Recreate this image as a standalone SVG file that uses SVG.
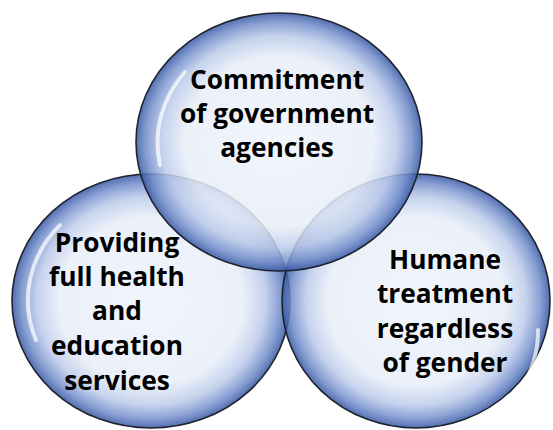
<svg xmlns="http://www.w3.org/2000/svg" width="553" height="430" viewBox="0 0 553 430">
  <defs>
    <radialGradient id="bub" cx="50%" cy="50%" r="50%">
      <stop offset="0" stop-color="#eff3fb"/>
      <stop offset="0.66" stop-color="#e8eef8"/>
      <stop offset="0.82" stop-color="#bccbea"/>
      <stop offset="0.93" stop-color="#738ecb"/>
      <stop offset="1" stop-color="#3656a2"/>
    </radialGradient>
  </defs>
  <style>
    .bubble { fill: url(#bub); fill-opacity: 0.85; stroke: #1e2330; stroke-width: 1.6; }
    .shine { fill: none; stroke: #ffffff; stroke-opacity: 0.7; stroke-width: 4; stroke-linecap: round; }
    .label { font-family: "Open Sans", Lato, "Liberation Sans", sans-serif; font-weight: bold; font-size: 26.3px; fill: #000000; text-anchor: middle; }
  </style>
  <rect width="553" height="430" fill="#ffffff"/>
  <g id="node-left">
    <ellipse class="bubble" cx="151" cy="301" rx="139" ry="127"/>
    <path class="shine" d="M 36 340 A 124 112 0 0 1 60 225"/>
  </g>
  <g id="node-right">
    <ellipse class="bubble" cx="416" cy="301" rx="134" ry="127"/>
    <path class="shine" d="M 538 330 A 120 112 0 0 1 520 390"/>
  </g>
  <g id="node-top">
    <ellipse class="bubble" cx="279" cy="142" rx="143" ry="129"/>
    <path class="shine" d="M 160 165 A 128 114 0 0 1 185 72"/>
  </g>
  <g id="labels">
    <text class="label" x="277" y="89">Commitment</text>
    <text class="label" x="277" y="123">of government</text>
    <text class="label" x="277" y="157">agencies</text>
    <text class="label" x="117" y="252">Providing</text>
    <text class="label" x="117" y="286">full health</text>
    <text class="label" x="117" y="320">and</text>
    <text class="label" x="117" y="355">education</text>
    <text class="label" x="117" y="390">services</text>
    <text class="label" x="445" y="269">Humane</text>
    <text class="label" x="445" y="303">treatment</text>
    <text class="label" x="445" y="338">regardless</text>
    <text class="label" x="445" y="372">of gender</text>
  </g>
  <g id="connectors"></g>
</svg>
